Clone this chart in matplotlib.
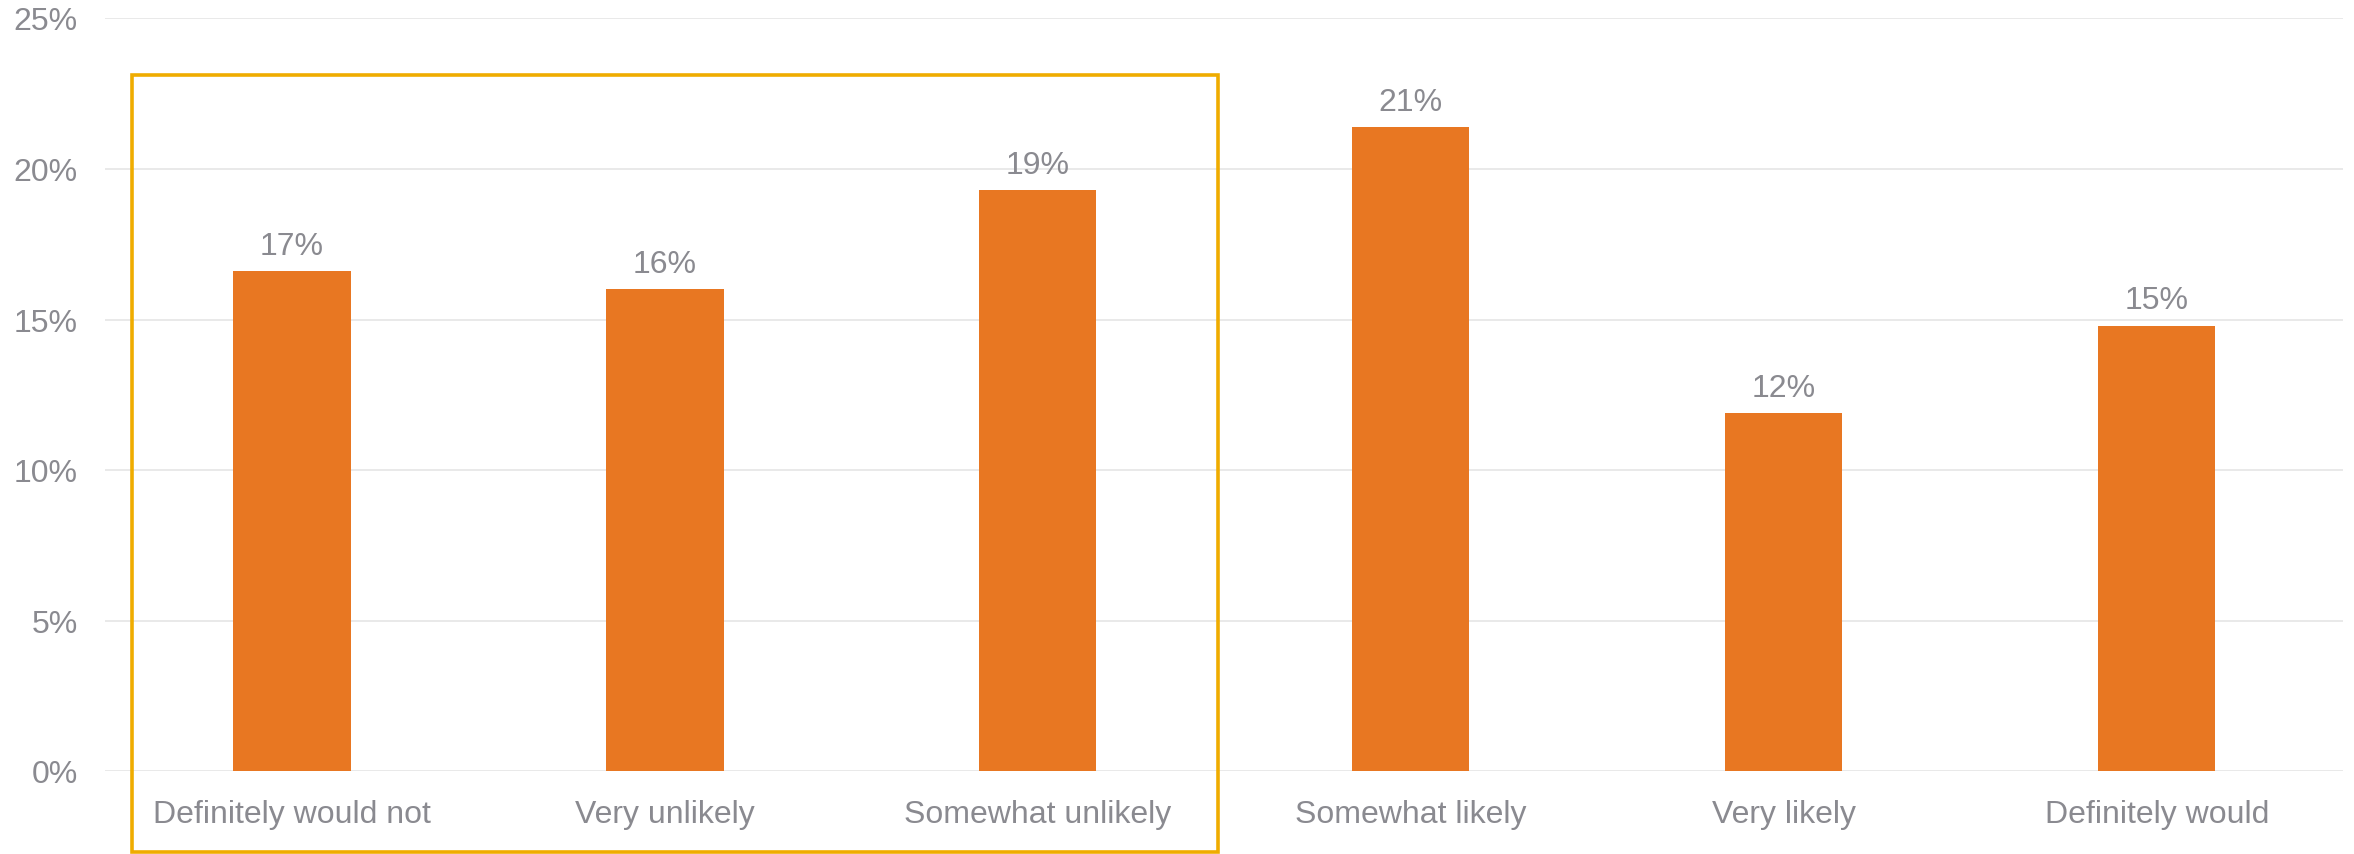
import matplotlib
matplotlib.use("Agg")
import matplotlib.pyplot as plt
from matplotlib.patches import Rectangle
from matplotlib.ticker import FuncFormatter

categories = ["Definitely would not", "Very unlikely", "Somewhat unlikely",
              "Somewhat likely", "Very likely", "Definitely would"]
shares = [16.6, 16.0, 19.3, 21.4, 11.9, 14.8]
labels = ["17%", "16%", "19%", "21%", "12%", "15%"]
yticks = [0, 5, 10, 15, 20, 25]

BAR = "#E87722"
TEXT = "#8A8A90"
GRID = "#E3E3E3"
BOX = "#EFAC00"

plt.rcParams["font.family"] = ["Liberation Sans", "DejaVu Sans"]

fig = plt.figure(figsize=(23.54, 8.545), dpi=100)
ax = fig.add_axes([0.0448, 0.0968, 0.9507, 0.881])

x = list(range(len(categories)))
bars = ax.bar(x, shares, width=0.314, color=BAR, zorder=3)

for rect, lab in zip(bars, labels):
    ax.annotate(lab, (rect.get_x() + rect.get_width() / 2, rect.get_height()),
                xytext=(0, 7), textcoords="offset points",
                ha="center", va="bottom", fontsize=23, color=TEXT)

ax.set_xlim(-0.5, len(categories) - 0.5)
ax.set_ylim(0, 25)
ax.set_yticks(yticks)
ax.yaxis.set_major_formatter(FuncFormatter(lambda v, _: f"{v:.0f}%"))
ax.set_xticks(x)
ax.set_xticklabels(categories)
ax.tick_params(axis="both", length=0, labelsize=23, labelcolor=TEXT)
ax.tick_params(axis="x", pad=20)
ax.tick_params(axis="y", pad=20)

ax.grid(axis="y", color=GRID, linewidth=1.1, zorder=0)
ax.set_axisbelow(True)
for s in ax.spines.values():
    s.set_visible(False)

# highlight box around the "unlikely" group
box = Rectangle((-0.43, -2.68), 2.914, 25.81, fill=False,
                edgecolor=BOX, linewidth=2.6, clip_on=False, zorder=4)
ax.add_patch(box)

fig.savefig("out.png", dpi=100, facecolor="white")
